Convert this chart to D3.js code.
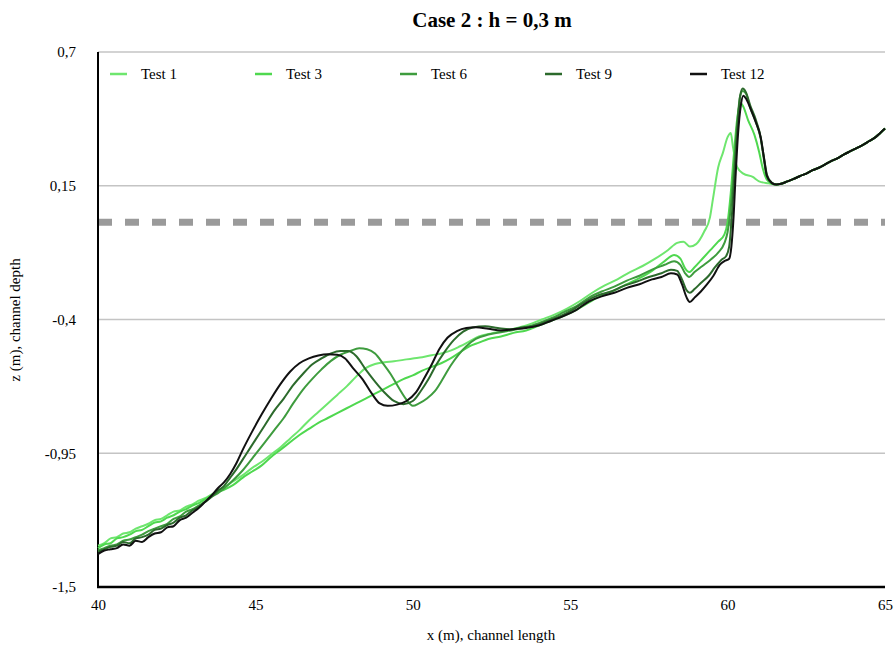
<!DOCTYPE html>
<html>
<head>
<meta charset="utf-8">
<script src="https://cdn.jsdelivr.net/npm/d3@7"></script>
<style>
  body { margin: 0; background: #fff; }
  svg { display: block; }
  text { font-family: "Liberation Serif", "Times New Roman", serif; fill: #000; }
</style>
</head>
<body>
<svg id="chart" width="895" height="646"></svg>
<script>
// Bed profiles z(x) along the channel, one array of [x (m), z (m)] per test
const test1 = [[40,-1.33],[40.2,-1.32],[40.4,-1.30],[40.6,-1.295],[40.8,-1.28],[41.0,-1.275],[41.2,-1.26],[41.4,-1.25],[41.6,-1.24],[41.8,-1.225],[42.0,-1.22],[42.2,-1.205],[42.4,-1.19],[42.6,-1.185],[42.8,-1.17],[43.0,-1.16],[43.2,-1.145],[43.4,-1.135],[43.6,-1.12],[43.8,-1.105],[44.0,-1.09],[44.3,-1.065],[44.6,-1.04],[44.9,-1.01],[45.2,-0.985],[45.5,-0.955],[45.8,-0.925],[46.1,-0.89],[46.4,-0.855],[46.7,-0.815],[47.0,-0.78],[47.3,-0.745],[47.6,-0.71],[47.9,-0.675],[48.2,-0.635],[48.5,-0.6],[48.8,-0.583],[49.1,-0.576],[49.4,-0.572],[49.7,-0.566],[50.0,-0.56],[50.3,-0.555],[50.6,-0.547],[50.9,-0.54],[51.2,-0.528],[51.5,-0.51],[51.8,-0.49],[52.1,-0.47],[52.5,-0.457],[52.9,-0.448],[53.3,-0.435],[53.7,-0.42],[54.1,-0.40],[54.5,-0.38],[54.9,-0.355],[55.3,-0.325],[55.7,-0.29],[56.1,-0.26],[56.5,-0.235],[56.9,-0.205],[57.3,-0.18],[57.7,-0.15],[58.1,-0.115],[58.4,-0.085],[58.6,-0.08],[58.8,-0.10],[59.0,-0.09],[59.25,-0.04],[59.44,0.02],[59.54,0.10],[59.7,0.225],[59.85,0.285],[60.0,0.35],[60.1,0.367],[60.17,0.31],[60.3,0.227],[60.5,0.20],[60.8,0.186],[61.0,0.168],[61.3,0.16],[61.55,0.155]];

const test3 = [[40,-1.34],[40.2,-1.325],[40.4,-1.32],[40.6,-1.30],[40.8,-1.295],[41.0,-1.285],[41.2,-1.27],[41.4,-1.265],[41.6,-1.25],[41.8,-1.235],[42.0,-1.23],[42.2,-1.215],[42.4,-1.205],[42.6,-1.19],[42.8,-1.18],[43.0,-1.165],[43.2,-1.155],[43.4,-1.14],[43.6,-1.125],[43.8,-1.11],[44.0,-1.10],[44.3,-1.08],[44.6,-1.05],[44.9,-1.025],[45.2,-1.0],[45.5,-0.965],[45.8,-0.935],[46.1,-0.905],[46.4,-0.875],[46.7,-0.85],[47.0,-0.825],[47.3,-0.805],[47.6,-0.785],[47.9,-0.765],[48.2,-0.745],[48.5,-0.725],[48.8,-0.705],[49.1,-0.685],[49.4,-0.665],[49.7,-0.645],[50.0,-0.63],[50.3,-0.61],[50.6,-0.595],[50.9,-0.58],[51.2,-0.56],[51.5,-0.535],[51.8,-0.51],[52.1,-0.495],[52.4,-0.48],[52.8,-0.47],[53.2,-0.455],[53.6,-0.445],[54.0,-0.425],[54.4,-0.405],[54.8,-0.385],[55.2,-0.36],[55.6,-0.33],[56.0,-0.30],[56.4,-0.28],[56.8,-0.255],[57.2,-0.23],[57.6,-0.20],[58.0,-0.16],[58.3,-0.135],[58.5,-0.15],[58.65,-0.19],[58.78,-0.205],[58.95,-0.185],[59.2,-0.15],[59.45,-0.115],[59.7,-0.08],[59.9,-0.05],[60.0,0.0],[60.1,0.12],[60.2,0.28],[60.3,0.42],[60.4,0.49],[60.5,0.475],[60.65,0.42],[60.85,0.36],[61.0,0.29],[61.12,0.22],[61.25,0.175],[61.4,0.16],[61.55,0.155]];

const test6 = [[40,-1.35],[40.2,-1.34],[40.4,-1.33],[40.6,-1.325],[40.8,-1.31],[41.0,-1.305],[41.2,-1.295],[41.4,-1.285],[41.6,-1.27],[41.8,-1.26],[42.0,-1.25],[42.2,-1.24],[42.4,-1.22],[42.6,-1.21],[42.8,-1.19],[43.0,-1.18],[43.2,-1.165],[43.4,-1.15],[43.6,-1.13],[43.8,-1.115],[44.0,-1.095],[44.3,-1.06],[44.6,-1.02],[45.0,-0.955],[45.3,-0.905],[45.6,-0.855],[45.9,-0.805],[46.2,-0.745],[46.5,-0.69],[46.8,-0.645],[47.1,-0.605],[47.4,-0.57],[47.7,-0.545],[48.0,-0.53],[48.3,-0.518],[48.55,-0.522],[48.8,-0.54],[49.05,-0.58],[49.3,-0.625],[49.55,-0.68],[49.8,-0.73],[50.0,-0.755],[50.2,-0.745],[50.45,-0.725],[50.7,-0.695],[50.95,-0.645],[51.2,-0.59],[51.45,-0.545],[51.7,-0.51],[52.0,-0.48],[52.4,-0.462],[52.8,-0.452],[53.2,-0.443],[53.6,-0.432],[54.0,-0.415],[54.4,-0.395],[54.8,-0.37],[55.2,-0.345],[55.6,-0.31],[56.0,-0.285],[56.4,-0.265],[56.8,-0.24],[57.2,-0.22],[57.6,-0.195],[58.0,-0.175],[58.3,-0.16],[58.5,-0.175],[58.65,-0.21],[58.78,-0.225],[58.95,-0.205],[59.2,-0.18],[59.45,-0.155],[59.7,-0.125],[59.9,-0.085],[60.0,-0.04],[60.1,0.06],[60.2,0.22],[60.3,0.40],[60.4,0.52],[60.48,0.54],[60.58,0.53],[60.72,0.47],[60.9,0.41],[61.05,0.345],[61.15,0.26],[61.25,0.185],[61.4,0.16],[61.55,0.155]];

const test9 = [[40,-1.355],[40.2,-1.345],[40.4,-1.335],[40.6,-1.33],[40.8,-1.315],[41.0,-1.32],[41.2,-1.30],[41.4,-1.295],[41.6,-1.285],[41.8,-1.265],[42.0,-1.26],[42.2,-1.245],[42.4,-1.235],[42.6,-1.215],[42.8,-1.205],[43.0,-1.185],[43.2,-1.17],[43.4,-1.15],[43.6,-1.13],[43.8,-1.105],[44.0,-1.085],[44.2,-1.05],[44.4,-1.015],[44.7,-0.955],[45.0,-0.895],[45.3,-0.835],[45.6,-0.775],[45.9,-0.725],[46.2,-0.67],[46.5,-0.625],[46.8,-0.585],[47.1,-0.56],[47.4,-0.54],[47.7,-0.53],[47.95,-0.53],[48.2,-0.55],[48.5,-0.605],[48.8,-0.655],[49.1,-0.70],[49.4,-0.735],[49.7,-0.748],[50.0,-0.735],[50.25,-0.695],[50.5,-0.645],[50.75,-0.585],[51.0,-0.535],[51.3,-0.485],[51.6,-0.45],[51.9,-0.433],[52.3,-0.428],[52.7,-0.435],[53.1,-0.44],[53.5,-0.432],[53.9,-0.425],[54.3,-0.405],[54.7,-0.385],[55.1,-0.358],[55.5,-0.325],[55.9,-0.30],[56.3,-0.285],[56.7,-0.262],[57.1,-0.245],[57.5,-0.225],[57.9,-0.21],[58.2,-0.195],[58.4,-0.20],[58.55,-0.235],[58.7,-0.28],[58.8,-0.29],[58.95,-0.275],[59.15,-0.25],[59.4,-0.22],[59.6,-0.185],[59.8,-0.155],[59.95,-0.14],[60.05,-0.10],[60.12,0.0],[60.2,0.16],[60.3,0.37],[60.4,0.52],[60.48,0.55],[60.58,0.535],[60.72,0.48],[60.9,0.42],[61.05,0.35],[61.15,0.27],[61.25,0.195],[61.4,0.163],[61.55,0.155]];

const test12 = [[40,-1.365],[40.2,-1.35],[40.4,-1.345],[40.6,-1.34],[40.8,-1.325],[41.0,-1.33],[41.2,-1.31],[41.4,-1.315],[41.6,-1.295],[41.8,-1.28],[42.0,-1.275],[42.2,-1.255],[42.4,-1.25],[42.6,-1.225],[42.8,-1.215],[43.0,-1.195],[43.2,-1.175],[43.4,-1.15],[43.6,-1.125],[43.8,-1.095],[44.0,-1.07],[44.2,-1.035],[44.4,-0.99],[44.6,-0.935],[44.9,-0.86],[45.2,-0.79],[45.5,-0.725],[45.8,-0.665],[46.1,-0.615],[46.4,-0.58],[46.7,-0.56],[47.0,-0.548],[47.3,-0.543],[47.6,-0.545],[47.85,-0.56],[48.1,-0.6],[48.4,-0.645],[48.7,-0.705],[48.95,-0.745],[49.2,-0.755],[49.5,-0.75],[49.8,-0.735],[50.1,-0.70],[50.35,-0.645],[50.6,-0.585],[50.85,-0.52],[51.1,-0.475],[51.4,-0.448],[51.7,-0.435],[52.0,-0.432],[52.4,-0.438],[52.8,-0.445],[53.2,-0.44],[53.6,-0.435],[54.0,-0.425],[54.4,-0.405],[54.8,-0.385],[55.2,-0.36],[55.6,-0.325],[56.0,-0.305],[56.4,-0.29],[56.8,-0.27],[57.2,-0.255],[57.6,-0.235],[57.9,-0.225],[58.2,-0.21],[58.4,-0.215],[58.55,-0.255],[58.7,-0.31],[58.8,-0.328],[58.95,-0.31],[59.15,-0.285],[59.35,-0.255],[59.55,-0.22],[59.75,-0.175],[59.9,-0.16],[60.05,-0.15],[60.12,-0.10],[60.18,0.0],[60.25,0.18],[60.33,0.36],[60.42,0.48],[60.5,0.52],[60.6,0.505],[60.75,0.46],[60.9,0.41],[61.05,0.35],[61.15,0.27],[61.25,0.19],[61.4,0.162],[61.55,0.155]];

// Downstream reach where all tests coincide
const downstreamReach = [[61.7,0.158],[61.9,0.168],[62.1,0.178],[62.2,0.184],[62.3,0.19],[62.5,0.2],[62.7,0.214],[62.9,0.224],[63.1,0.238],[63.3,0.252],[63.5,0.264],[63.7,0.279],[63.9,0.292],[64.1,0.305],[64.3,0.318],[64.5,0.334],[64.7,0.35],[64.85,0.367],[65.0,0.385]];

const seriesNames = ["Test 1", "Test 3", "Test 6", "Test 9", "Test 12"];
const seriesData = [test1, test3, test6, test9, test12];
const seriesColors = ["#6ee66e", "#4fd84f", "#3e9c3e", "#2c6a2c", "#111111"];

const xTicks = [40, 45, 50, 55, 60, 65];
const yTicks = [0.7, 0.15, -0.4, -0.95, -1.5];
const waterLevel = 0;

const titleText = "Case 2 : h = 0,3 m";
const xTitle = "x (m), channel length";
const yTitle = "z (m), channel depth";

// Layout
const plot = { left: 98, right: 885, top: 52, bottom: 587 };
const svg = d3.select("#chart");

const x = d3.scaleLinear().domain([40, 65]).range([plot.left, plot.right]);
const y = d3.scaleLinear().domain([-1.5, 0.7]).range([plot.bottom, plot.top]);
const fmt = d => String(d).replace(".", ",");

// Horizontal gridlines
svg.append("g")
  .selectAll("line")
  .data(yTicks.filter(t => t !== -1.5))
  .join("line")
  .attr("x1", plot.left).attr("x2", plot.right)
  .attr("y1", d => y(d)).attr("y2", d => y(d))
  .attr("stroke", "#c4c4c4").attr("stroke-width", 1.5);

// Reference level (dashed)
svg.append("line")
  .attr("x1", plot.left).attr("x2", plot.right)
  .attr("y1", y(waterLevel)).attr("y2", y(waterLevel))
  .attr("stroke", "#9a9a9a").attr("stroke-width", 7)
  .attr("stroke-dasharray", "14,13");

// Axes
const yAxis = svg.append("g")
  .attr("transform", `translate(${plot.left},0)`)
  .call(d3.axisLeft(y).tickValues(yTicks).tickFormat(fmt).tickSize(0).tickPadding(22));
yAxis.select(".domain").remove();
yAxis.selectAll("text").attr("font-size", 15).attr("font-family", "Liberation Serif, serif");

const xAxis = svg.append("g")
  .attr("transform", `translate(0,${plot.bottom})`)
  .call(d3.axisBottom(x).tickValues(xTicks).tickFormat(d3.format("d")).tickSize(0).tickPadding(12));
xAxis.select(".domain").remove();
xAxis.selectAll("text").attr("font-size", 15).attr("font-family", "Liberation Serif, serif");

svg.append("line")
  .attr("x1", plot.left).attr("x2", plot.left)
  .attr("y1", plot.top).attr("y2", plot.bottom)
  .attr("stroke", "#000").attr("stroke-width", 2);
svg.append("line")
  .attr("x1", plot.left - 1).attr("x2", plot.right)
  .attr("y1", plot.bottom).attr("y2", plot.bottom)
  .attr("stroke", "#000").attr("stroke-width", 2.5);

// Profiles
const line = d3.line()
  .x(d => x(d[0]))
  .y(d => y(d[1]))
  .curve(d3.curveMonotoneX);

svg.append("g")
  .selectAll("path")
  .data(seriesData.map(s => s.concat(downstreamReach)))
  .join("path")
  .attr("d", line)
  .attr("fill", "none")
  .attr("stroke", (d, i) => seriesColors[i])
  .attr("stroke-width", 2)
  .attr("stroke-linejoin", "round");

// Legend
const legend = svg.append("g").attr("transform", "translate(110,74)");
const item = legend.selectAll("g")
  .data(seriesNames)
  .join("g")
  .attr("transform", (d, i) => `translate(${i * 145},0)`);
item.append("line")
  .attr("x1", 0).attr("x2", 17).attr("y1", 0).attr("y2", 0)
  .attr("stroke", (d, i) => seriesColors[i]).attr("stroke-width", 2.5);
item.append("text")
  .attr("x", 31).attr("y", 0).attr("dy", "0.35em")
  .attr("font-size", 15)
  .text(d => d);

// Titles
svg.append("text")
  .attr("x", 492).attr("y", 27)
  .attr("text-anchor", "middle")
  .attr("font-size", 21).attr("font-weight", "bold")
  .text(titleText);

svg.append("text")
  .attr("x", 491).attr("y", 640)
  .attr("text-anchor", "middle")
  .attr("font-size", 15)
  .text(xTitle);

svg.append("text")
  .attr("transform", "translate(20,320) rotate(-90)")
  .attr("text-anchor", "middle")
  .attr("font-size", 15)
  .text(yTitle);
</script>
</body>
</html>
